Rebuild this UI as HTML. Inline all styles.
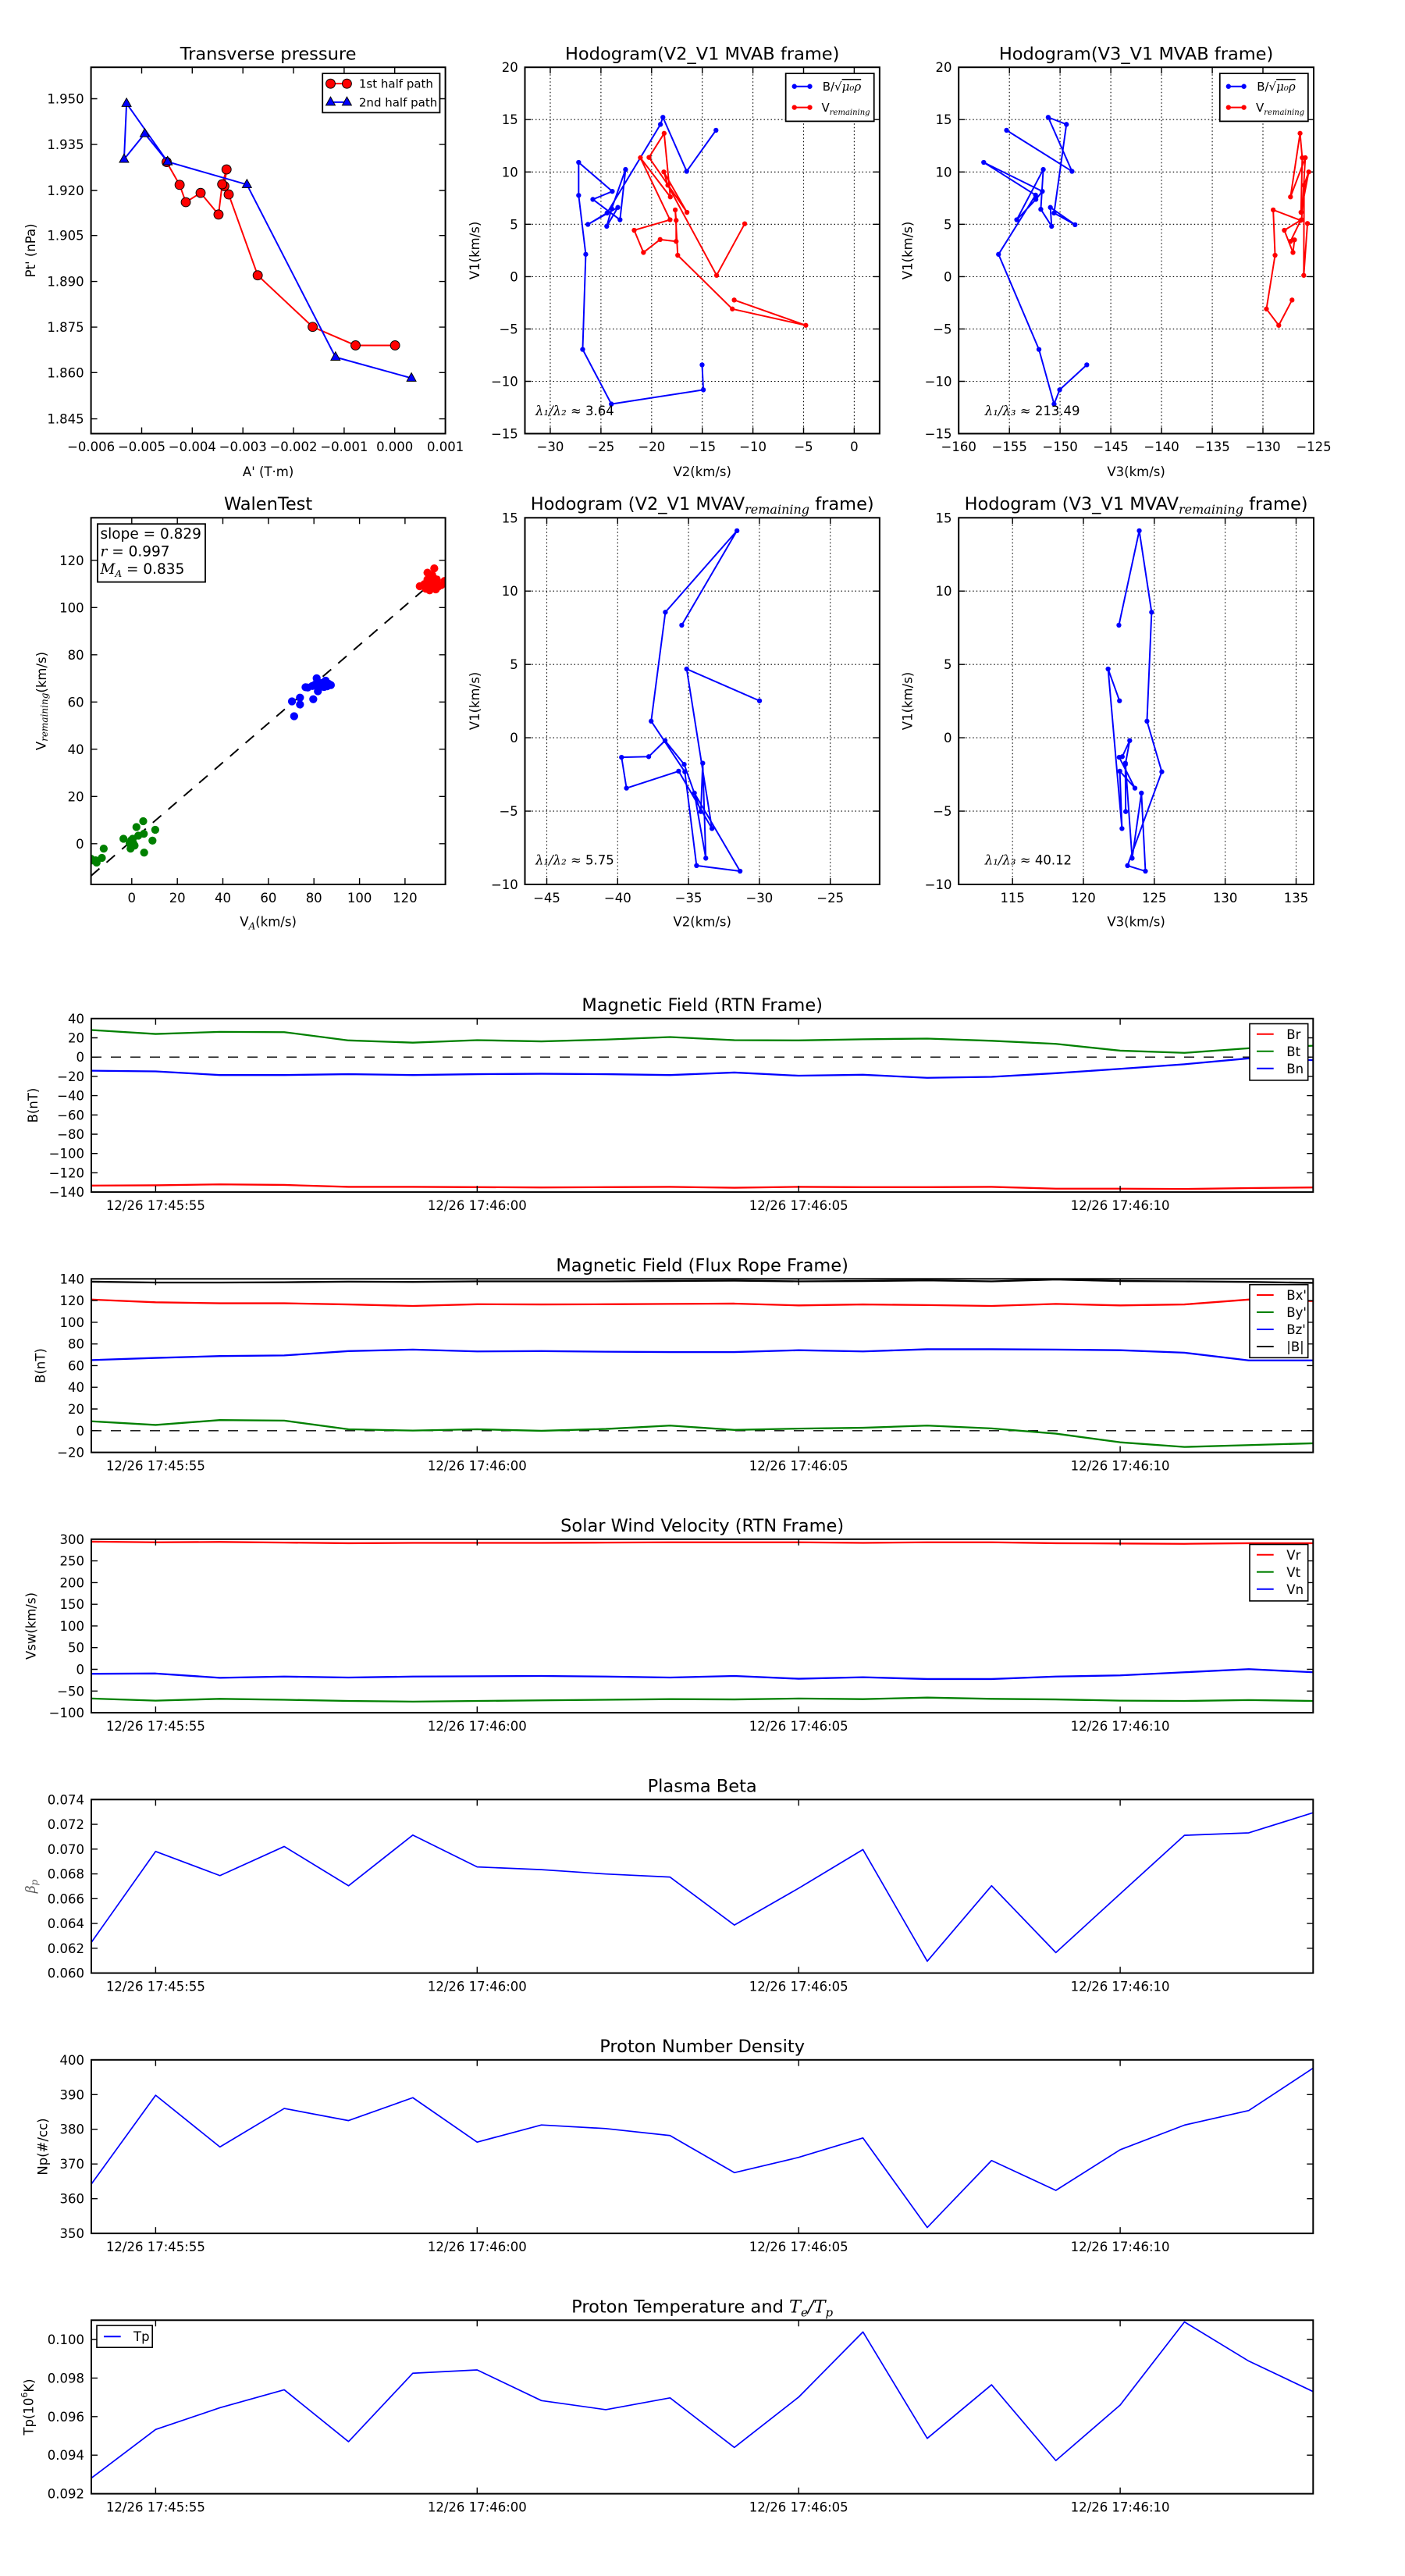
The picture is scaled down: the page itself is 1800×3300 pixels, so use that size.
<!DOCTYPE html>
<html><head><meta charset="utf-8"><title>Flux rope analysis</title>
<style>
html,body{margin:0;padding:0;background:#fff;}
svg{display:block;}
text{font-family:"DejaVu Sans","Liberation Sans",sans-serif;fill:#000;}
.t{font-size:16.5px;}
.ttl{font-size:22.5px;}
.lg{font-size:15px;}
.m{font-family:"DejaVu Serif","Liberation Serif",serif;font-style:italic;}
.ax{fill:none;stroke:#000;stroke-width:2;}
.tk{fill:none;stroke:#000;stroke-width:1.4;}
.grid{fill:none;stroke:#000;stroke-width:1.1;stroke-dasharray:1.5,3;}
.ts{fill:none;vector-effect:non-scaling-stroke;stroke-linejoin:round;}
</style></head><body>
<svg width="1800" height="3300" viewBox="0 0 1800 3300" xmlns="http://www.w3.org/2000/svg">
<defs>
<marker id="db" viewBox="-10 -10 20 20" markerWidth="20" markerHeight="20" markerUnits="userSpaceOnUse"><circle r="8" fill="#0000ff"/></marker>
<marker id="dr" viewBox="-10 -10 20 20" markerWidth="20" markerHeight="20" markerUnits="userSpaceOnUse"><circle r="8" fill="#ff0000"/></marker>
<marker id="mr" viewBox="-18 -18 36 36" markerWidth="36" markerHeight="36" markerUnits="userSpaceOnUse"><circle r="15" fill="#ff0000" stroke="#000" stroke-width="2.5"/></marker>
<marker id="mt" viewBox="-18 -20 36 36" markerWidth="36" markerHeight="36" markerUnits="userSpaceOnUse"><path d="M0,-17 L15,10 L-15,10Z" fill="#0000ff" stroke="#000" stroke-width="2.5"/></marker>
<marker id="wg" viewBox="-14 -14 28 28" markerWidth="28" markerHeight="28" markerUnits="userSpaceOnUse"><circle r="13" fill="#008000"/></marker>
<marker id="wb" viewBox="-14 -14 28 28" markerWidth="28" markerHeight="28" markerUnits="userSpaceOnUse"><circle r="13" fill="#0000ff"/></marker>
<marker id="wr" viewBox="-14 -14 28 28" markerWidth="28" markerHeight="28" markerUnits="userSpaceOnUse"><circle r="13" fill="#ff0000"/></marker>
<clipPath id="cw"><rect x="116.6" y="663.3" width="454" height="469.7"/></clipPath>
</defs>
<rect width="1800" height="3300" fill="#fff"/>

<!-- ============ Panel 1: Transverse pressure ============ -->
<text class="ttl" x="343.6" y="76.3" text-anchor="middle">Transverse pressure</text>
<g transform="scale(0.39541)">
<polyline points="1280,1119 1152,1119 1013,1059 835,892 741,630 727,603 734,549 720,597 708,695 650,625 602,655 582,599 540,525" fill="none" stroke="#ff0000" stroke-width="5" marker-start="url(#mr)" marker-mid="url(#mr)" marker-end="url(#mr)"/>
<polyline points="1333,1225 1087,1157 800,598 543,524 410,335 402,516 469,433 543,524" fill="none" stroke="#0000ff" stroke-width="5" marker-start="url(#mt)" marker-mid="url(#mt)" marker-end="url(#mt)"/>
<rect x="1045" y="238" width="380" height="127" fill="#fff" stroke="#000" stroke-width="4.5"/>
<polyline points="1071,271 1124,271" fill="none" stroke="#ff0000" stroke-width="5" marker-start="url(#mr)" marker-end="url(#mr)"/>
<polyline points="1071,331 1124,331" fill="none" stroke="#0000ff" stroke-width="5" marker-start="url(#mt)" marker-end="url(#mt)"/>
</g>
<text class="lg" x="459.9" y="112.5">1st half path</text>
<text class="lg" x="459.9" y="136.3">2nd half path</text>
<path class="tk" d="M181.5 555.5v-8M246.3 555.5v-8M311.2 555.5v-8M376 555.5v-8M440.9 555.5v-8M505.7 555.5v-8M181.5 86.2v8M246.3 86.2v8M311.2 86.2v8M376 86.2v8M440.9 86.2v8M505.7 86.2v8M116.6 536.6h8M116.6 477.3h8M116.6 419.1h8M116.6 360.6h8M116.6 301.7h8M116.6 244h8M116.6 185.1h8M116.6 126.5h8M570.6 536.6h-8M570.6 477.3h-8M570.6 419.1h-8M570.6 360.6h-8M570.6 301.7h-8M570.6 244h-8M570.6 185.1h-8M570.6 126.5h-8"/>
<rect class="ax" x="116.6" y="86.2" width="454" height="469.3"/>
<g class="t" text-anchor="end">
<text x="107.6" y="132.5">1.950</text><text x="107.6" y="191.1">1.935</text><text x="107.6" y="250">1.920</text><text x="107.6" y="307.7">1.905</text><text x="107.6" y="366.6">1.890</text><text x="107.6" y="425.1">1.875</text><text x="107.6" y="483.3">1.860</text><text x="107.6" y="542.6">1.845</text>
</g>
<g class="t" text-anchor="middle">
<text x="116.6" y="578">−0.006</text><text x="181.5" y="578">−0.005</text><text x="246.3" y="578">−0.004</text><text x="311.2" y="578">−0.003</text><text x="376" y="578">−0.002</text><text x="440.9" y="578">−0.001</text><text x="505.7" y="578">0.000</text><text x="570.6" y="578">0.001</text>
</g>
<text class="t" x="343.6" y="610" text-anchor="middle">A' (T·m)</text>
<text class="t" transform="translate(39.5,320.9) rotate(-90)" text-anchor="middle" dominant-baseline="central">Pt' (nPa)</text>

<!-- ============ Panel 2: Hodogram V2_V1 MVAB ============ -->
<text class="ttl" x="899.7" y="76.3" text-anchor="middle">Hodogram(V2_V1 MVAB frame)</text>
<path class="grid" d="M704.96 86.2V555.5M769.9 86.2V555.5M834.8 86.2V555.5M899.7 86.2V555.5M964.6 86.2V555.5M1029.5 86.2V555.5M1094.4 86.2V555.5M672.5 153.2H1126.9M672.5 220.3H1126.9M672.5 287.3H1126.9M672.5 354.4H1126.9M672.5 421.4H1126.9M672.5 488.5H1126.9"/>
<path class="tk" d="M704.96 555.5v-8M769.9 555.5v-8M834.8 555.5v-8M899.7 555.5v-8M964.6 555.5v-8M1029.5 555.5v-8M1094.4 555.5v-8M704.96 86.2v8M769.9 86.2v8M834.8 86.2v8M899.7 86.2v8M964.6 86.2v8M1029.5 86.2v8M1094.4 86.2v8M672.5 153.2h8M672.5 220.3h8M672.5 287.3h8M672.5 354.4h8M672.5 421.4h8M672.5 488.5h8M1126.9 153.2h-8M1126.9 220.3h-8M1126.9 287.3h-8M1126.9 354.4h-8M1126.9 421.4h-8M1126.9 488.5h-8"/>
<g transform="translate(580,0) scale(0.39541)">
<polyline points="853,422 758,555 681,380 673,403 500,690 438,727 535,672 499,733 515,676 560,549 542,712 454,646 517,620 408,526 408,633 431,824 421,1132 514,1309 812,1263 808,1182" fill="none" stroke="#0000ff" stroke-width="5" stroke-linejoin="round" marker-start="url(#db)" marker-mid="url(#db)" marker-end="url(#db)"/>
<polyline points="946,725 855,892 697,600 684,557 759,688 636,510 685,432 705,638 608,511 704,712 588,746 618,818 672,776 724,782 724,714 721,680 729,827 906,1001 1144,1054 912,972" fill="none" stroke="#ff0000" stroke-width="5" stroke-linejoin="round" marker-start="url(#dr)" marker-mid="url(#dr)" marker-end="url(#dr)"/>
<rect x="1079" y="238" width="286" height="155" fill="#fff" stroke="#000" stroke-width="4.5"/>
<polyline points="1107,280 1157,280" fill="none" stroke="#0000ff" stroke-width="5" marker-start="url(#db)" marker-end="url(#db)"/>
<polyline points="1107,348 1157,348" fill="none" stroke="#ff0000" stroke-width="5" marker-start="url(#dr)" marker-end="url(#dr)"/>
</g>
<text class="lg" x="1053.7" y="116">B/<tspan class="m">√</tspan><tspan class="m" text-decoration="overline">μ₀ρ</tspan></text>
<text class="lg" x="1052.5" y="143">V<tspan class="m" font-size="10" dy="4">remaining</tspan></text>
<rect class="ax" x="672.5" y="86.2" width="454.4" height="469.3"/>
<g class="t" text-anchor="end">
<text x="663.8" y="92.2">20</text><text x="663.8" y="159.2">15</text><text x="663.8" y="226.3">10</text><text x="663.8" y="293.3">5</text><text x="663.8" y="360.4">0</text><text x="663.8" y="427.4">−5</text><text x="663.8" y="494.5">−10</text><text x="663.8" y="561.5">−15</text>
</g>
<g class="t" text-anchor="middle">
<text x="704.96" y="578">−30</text><text x="769.9" y="578">−25</text><text x="834.8" y="578">−20</text><text x="899.7" y="578">−15</text><text x="964.6" y="578">−10</text><text x="1029.5" y="578">−5</text><text x="1094.4" y="578">0</text>
</g>
<text class="t" x="686" y="532"><tspan class="m">λ₁/λ₂ ≈</tspan> 3.64</text>
<text class="t" x="899.7" y="610" text-anchor="middle">V2(km/s)</text>
<text class="t" transform="translate(608.5,320.9) rotate(-90)" text-anchor="middle" dominant-baseline="central">V1(km/s)</text>

<!-- ============ Panel 3: Hodogram V3_V1 MVAB ============ -->
<text class="ttl" x="1455.6" y="76.3" text-anchor="middle">Hodogram(V3_V1 MVAB frame)</text>
<path class="grid" d="M1293.2 86.2V555.5M1358.1 86.2V555.5M1423.1 86.2V555.5M1488.1 86.2V555.5M1553.1 86.2V555.5M1618 86.2V555.5M1228.2 153.2H1683M1228.2 220.3H1683M1228.2 287.3H1683M1228.2 354.4H1683M1228.2 421.4H1683M1228.2 488.5H1683"/>
<path class="tk" d="M1293.2 555.5v-8M1358.1 555.5v-8M1423.1 555.5v-8M1488.1 555.5v-8M1553.1 555.5v-8M1618 555.5v-8M1293.2 86.2v8M1358.1 86.2v8M1423.1 86.2v8M1488.1 86.2v8M1553.1 86.2v8M1618 86.2v8M1228.2 153.2h8M1228.2 220.3h8M1228.2 287.3h8M1228.2 354.4h8M1228.2 421.4h8M1228.2 488.5h8M1683 153.2h-8M1683 220.3h-8M1683 287.3h-8M1683 354.4h-8M1683 421.4h-8M1683 488.5h-8"/>
<g transform="translate(1180,0) scale(0.39541)">
<polyline points="277,422 489,555 412,380 471,403 431,690 499,728 419,672 423,733 388,678 396,549 310,712 372,646 393,620 203,526 371,632 251,824 382,1132 431,1309 449,1263 537,1182" fill="none" stroke="#0000ff" stroke-width="5" stroke-linejoin="round" marker-start="url(#db)" marker-mid="url(#db)" marker-end="url(#db)"/>
<polyline points="1252,724 1240,892 1241,600 1256,557 1231,688 1235,511 1228,432 1197,638 1245,511 1233,712 1177,746 1205,818 1210,777 1197,782 1230,714 1141,680 1147,827 1119,1001 1159,1054 1202,972" fill="none" stroke="#ff0000" stroke-width="5" stroke-linejoin="round" marker-start="url(#dr)" marker-mid="url(#dr)" marker-end="url(#dr)"/>
<rect x="968" y="238" width="286" height="155" fill="#fff" stroke="#000" stroke-width="4.5"/>
<polyline points="996,280 1046,280" fill="none" stroke="#0000ff" stroke-width="5" marker-start="url(#db)" marker-end="url(#db)"/>
<polyline points="996,348 1046,348" fill="none" stroke="#ff0000" stroke-width="5" marker-start="url(#dr)" marker-end="url(#dr)"/>
</g>
<text class="lg" x="1610.2" y="116">B/<tspan class="m">√</tspan><tspan class="m" text-decoration="overline">μ₀ρ</tspan></text>
<text class="lg" x="1609" y="143">V<tspan class="m" font-size="10" dy="4">remaining</tspan></text>
<rect class="ax" x="1228.2" y="86.2" width="454.8" height="469.3"/>
<g class="t" text-anchor="end">
<text x="1219.5" y="92.2">20</text><text x="1219.5" y="159.2">15</text><text x="1219.5" y="226.3">10</text><text x="1219.5" y="293.3">5</text><text x="1219.5" y="360.4">0</text><text x="1219.5" y="427.4">−5</text><text x="1219.5" y="494.5">−10</text><text x="1219.5" y="561.5">−15</text>
</g>
<g class="t" text-anchor="middle">
<text x="1228.2" y="578">−160</text><text x="1293.2" y="578">−155</text><text x="1358.1" y="578">−150</text><text x="1423.1" y="578">−145</text><text x="1488.1" y="578">−140</text><text x="1553.1" y="578">−135</text><text x="1618" y="578">−130</text><text x="1683" y="578">−125</text>
</g>
<text class="t" x="1261.8" y="532"><tspan class="m">λ₁/λ₃ ≈</tspan> 213.49</text>
<text class="t" x="1455.6" y="610" text-anchor="middle">V3(km/s)</text>
<text class="t" transform="translate(1163.2,320.9) rotate(-90)" text-anchor="middle" dominant-baseline="central">V1(km/s)</text>

<!-- ============ Panel 4: WalenTest ============ -->
<text class="ttl" x="343.6" y="653" text-anchor="middle">WalenTest</text>
<path class="tk" d="M168.8 1133v-8M227.2 1133v-8M285.5 1133v-8M343.9 1133v-8M402.2 1133v-8M460.6 1133v-8M518.9 1133v-8M168.8 663.3v8M227.2 663.3v8M285.5 663.3v8M343.9 663.3v8M402.2 663.3v8M460.6 663.3v8M518.9 663.3v8M116.6 1080.8h8M116.6 1020.3h8M116.6 959.8h8M116.6 899.3h8M116.6 838.8h8M116.6 778.3h8M116.6 717.8h8M570.6 1080.8h-8M570.6 1020.3h-8M570.6 959.8h-8M570.6 899.3h-8M570.6 838.8h-8M570.6 778.3h-8M570.6 717.8h-8"/>
<g clip-path="url(#cw)">
<g transform="translate(0,600) scale(0.39541)">
<polyline points="295,1320 1443,333" fill="none" stroke="#000" stroke-width="5" stroke-dasharray="36,30"/>
<polyline points="300,1270 313,1277 330,1262 336,1232 400,1200 423,1232 430,1200 436,1222 442,1162 448,1190 464,1143 466,1184 467,1245 494,1206 503,1171 420,1215 425,1205 432,1215 295,1265 310,1270" fill="none" stroke="none" marker-start="url(#wg)" marker-mid="url(#wg)" marker-end="url(#wg)"/>
<polyline points="946,755 953,803 972,743 972,765 997,710 990,709 1015,748 1026,680 1030,722 1040,700 1050,708 1055,688 1060,706 1072,702 1065,698 1022,700 1035,710 1045,695 1028,690 1012,705" fill="none" stroke="none" marker-start="url(#wb)" marker-mid="url(#wb)" marker-end="url(#wb)"/>
<polyline points="1360,382 1385,338 1392,395 1407,324 1402,370 1385,360 1420,383 1440,365 1410,378 1395,355 1375,375 1398,385 1415,360 1388,372 1430,378 1400,345 1380,390 1412,392 1392,368 1405,355" fill="none" stroke="none" marker-start="url(#wr)" marker-mid="url(#wr)" marker-end="url(#wr)"/>
</g>
</g>
<rect x="125" y="671.2" width="138" height="74.4" fill="#fff" stroke="#000" stroke-width="1.8"/>
<text x="128.5" y="690" font-size="18.5">slope = 0.829</text>
<text x="128.5" y="712.6" font-size="18.5"><tspan class="m">r</tspan> = 0.997</text>
<text x="128.5" y="735.2" font-size="18.5"><tspan class="m">M</tspan><tspan class="m" font-size="12" dy="4">A</tspan><tspan dy="-4"> = 0.835</tspan></text>
<rect class="ax" x="116.6" y="663.3" width="454" height="469.7"/>
<g class="t" text-anchor="end">
<text x="107.6" y="1086.8">0</text><text x="107.6" y="1026.3">20</text><text x="107.6" y="965.8">40</text><text x="107.6" y="905.3">60</text><text x="107.6" y="844.8">80</text><text x="107.6" y="784.3">100</text><text x="107.6" y="723.8">120</text>
</g>
<g class="t" text-anchor="middle">
<text x="168.8" y="1156">0</text><text x="227.2" y="1156">20</text><text x="285.5" y="1156">40</text><text x="343.9" y="1156">60</text><text x="402.2" y="1156">80</text><text x="460.6" y="1156">100</text><text x="518.9" y="1156">120</text>
</g>
<text class="t" x="343.6" y="1186.4" text-anchor="middle">V<tspan class="m" font-size="12" dy="4">A</tspan><tspan dy="-4">(km/s)</tspan></text>
<text class="t" transform="translate(53,898) rotate(-90)" text-anchor="middle" dominant-baseline="central">V<tspan class="m" font-size="12" dy="4">remaining</tspan><tspan dy="-4">(km/s)</tspan></text>

<!-- ============ Panel 5: Hodogram V2_V1 MVAV ============ -->
<text class="ttl" x="899.7" y="653" text-anchor="middle">Hodogram (V2_V1 MVAV<tspan class="m" font-size="16" dy="5">remaining</tspan><tspan dy="-5"> frame)</tspan></text>
<path class="grid" d="M700.5 663.3V1133M791.3 663.3V1133M882.1 663.3V1133M972.9 663.3V1133M1063.7 663.3V1133M672.5 757.2H1126.9M672.5 851.2H1126.9M672.5 945.1H1126.9M672.5 1039.1H1126.9"/>
<path class="tk" d="M700.5 1133v-8M791.3 1133v-8M882.1 1133v-8M972.9 1133v-8M1063.7 1133v-8M700.5 663.3v8M791.3 663.3v8M882.1 663.3v8M972.9 663.3v8M1063.7 663.3v8M672.5 757.2h8M672.5 851.2h8M672.5 945.1h8M672.5 1039.1h8M1126.9 757.2h-8M1126.9 851.2h-8M1126.9 945.1h-8M1126.9 1039.1h-8"/>
<g transform="translate(580,600) scale(0.39541)">
<polyline points="742,508 921,202 689,466 643,819 752,983 790,1287 931,1305 783,1052 820,1263 810,955 804,1112 750,959 688,882 635,934 547,936 563,1036 732,981 840,1167 758,650 994,753" fill="none" stroke="#0000ff" stroke-width="5" stroke-linejoin="round" marker-start="url(#db)" marker-mid="url(#db)" marker-end="url(#db)"/>
</g>
<rect class="ax" x="672.5" y="663.3" width="454.4" height="469.7"/>
<g class="t" text-anchor="end">
<text x="663.8" y="669.3">15</text><text x="663.8" y="763.2">10</text><text x="663.8" y="857.2">5</text><text x="663.8" y="951.1">0</text><text x="663.8" y="1045.1">−5</text><text x="663.8" y="1139">−10</text>
</g>
<g class="t" text-anchor="middle">
<text x="700.5" y="1156">−45</text><text x="791.3" y="1156">−40</text><text x="882.1" y="1156">−35</text><text x="972.9" y="1156">−30</text><text x="1063.7" y="1156">−25</text>
</g>
<text class="t" x="686" y="1107.3"><tspan class="m">λ₁/λ₂ ≈</tspan> 5.75</text>
<text class="t" x="899.7" y="1186.4" text-anchor="middle">V2(km/s)</text>
<text class="t" transform="translate(608.5,898) rotate(-90)" text-anchor="middle" dominant-baseline="central">V1(km/s)</text>

<!-- ============ Panel 6: Hodogram V3_V1 MVAV ============ -->
<text class="ttl" x="1455.6" y="653" text-anchor="middle">Hodogram (V3_V1 MVAV<tspan class="m" font-size="16" dy="5">remaining</tspan><tspan dy="-5"> frame)</tspan></text>
<path class="grid" d="M1297.2 663.3V1133M1388 663.3V1133M1478.8 663.3V1133M1569.6 663.3V1133M1660.5 663.3V1133M1228.2 757.2H1683M1228.2 851.2H1683M1228.2 945.1H1683M1228.2 1039.1H1683"/>
<path class="tk" d="M1297.2 1133v-8M1388 1133v-8M1478.8 1133v-8M1569.6 1133v-8M1660.5 1133v-8M1297.2 663.3v8M1388 663.3v8M1478.8 663.3v8M1569.6 663.3v8M1660.5 663.3v8M1228.2 757.2h8M1228.2 851.2h8M1228.2 945.1h8M1228.2 1039.1h8M1683 757.2h-8M1683 851.2h-8M1683 945.1h-8M1683 1039.1h-8"/>
<g transform="translate(1180,600) scale(0.39541)">
<polyline points="641,508 707,202 747,466 732,819 780,983 669,1287 727,1305 714,1052 684,1263 662,955 663,1112 662,959 676,882 652,934 642,936 693,1036 644,981 651,1167 606,650 643,753" fill="none" stroke="#0000ff" stroke-width="5" stroke-linejoin="round" marker-start="url(#db)" marker-mid="url(#db)" marker-end="url(#db)"/>
</g>
<rect class="ax" x="1228.2" y="663.3" width="454.8" height="469.7"/>
<g class="t" text-anchor="end">
<text x="1219.5" y="669.3">15</text><text x="1219.5" y="763.2">10</text><text x="1219.5" y="857.2">5</text><text x="1219.5" y="951.1">0</text><text x="1219.5" y="1045.1">−5</text><text x="1219.5" y="1139">−10</text>
</g>
<g class="t" text-anchor="middle">
<text x="1297.2" y="1156">115</text><text x="1388" y="1156">120</text><text x="1478.8" y="1156">125</text><text x="1569.6" y="1156">130</text><text x="1660.5" y="1156">135</text>
</g>
<text class="t" x="1261.8" y="1107.3"><tspan class="m">λ₁/λ₃ ≈</tspan> 40.12</text>
<text class="t" x="1455.6" y="1186.4" text-anchor="middle">V3(km/s)</text>
<text class="t" transform="translate(1163.2,898) rotate(-90)" text-anchor="middle" dominant-baseline="central">V1(km/s)</text>

<!-- ============ TS1: Magnetic Field RTN ============ -->
<text class="ttl" x="899.65" y="1294.8" text-anchor="middle">Magnetic Field (RTN Frame)</text>
<path d="M117 1354.2H1682.3" stroke="#000" stroke-width="1.4" stroke-dasharray="13,12" fill="none"/>
<g transform="matrix(82.38 0 0 -1.235 117 1354.2)">
<polyline class="ts" stroke="#ff0000" stroke-width="2.3" points="0,-133.3 1,-133 2,-132 3,-132.6 4,-134.6 5,-134.6 6,-134.9 7,-135.2 8,-134.9 9,-134.6 10,-135.5 11,-134.6 12,-134.9 13,-134.9 14,-134.6 15,-136.5 16,-136.5 17,-136.8 18,-135.9 19,-135.2"/>
<polyline class="ts" stroke="#008000" stroke-width="2.3" points="0,28.1 1,24 2,26.2 3,25.9 4,17.3 5,15 6,17.6 7,16.3 8,18.2 9,20.8 10,17.6 11,17.3 12,18.5 13,19.2 14,16.9 15,13.7 16,6.7 17,4.4 18,9.2 19,11.8"/>
<polyline class="ts" stroke="#0000ff" stroke-width="2.3" points="0,-14.1 1,-14.8 2,-18.6 3,-18.6 4,-17.7 5,-18.6 6,-17.7 7,-17.3 8,-17.7 9,-18.6 10,-16 11,-19.3 12,-18.3 13,-21.5 14,-20.5 15,-16.7 16,-12.2 17,-7.4 18,-1.3 19,-3.2"/>
</g>
<path class="tk" d="M199.4 1527.1v-8M611.3 1527.1v-8M1023.2 1527.1v-8M1435.1 1527.1v-8M199.4 1304.8v8M611.3 1304.8v8M1023.2 1304.8v8M1435.1 1304.8v8M117 1329.5h8M117 1354.2h8M117 1378.9h8M117 1403.6h8M117 1428.3h8M117 1453h8M117 1477.7h8M117 1502.4h8M1682.3 1329.5h-8M1682.3 1354.2h-8M1682.3 1378.9h-8M1682.3 1403.6h-8M1682.3 1428.3h-8M1682.3 1453h-8M1682.3 1477.7h-8M1682.3 1502.4h-8"/>
<rect x="1601" y="1311.5" width="74.7" height="72.4" fill="#fff" stroke="#000" stroke-width="1.6"/>
<path d="M1610 1324.8h21.7" stroke="#ff0000" stroke-width="2"/><text class="t" x="1648.3" y="1330.8">Br</text>
<path d="M1610 1346.8h21.7" stroke="#008000" stroke-width="2"/><text class="t" x="1648.3" y="1352.8">Bt</text>
<path d="M1610 1368.8h21.7" stroke="#0000ff" stroke-width="2"/><text class="t" x="1648.3" y="1374.8">Bn</text>
<rect class="ax" x="117" y="1304.8" width="1565.3" height="222.3"/>
<g class="t" text-anchor="end">
<text x="108" y="1310.8">40</text><text x="108" y="1335.5">20</text><text x="108" y="1360.2">0</text><text x="108" y="1384.9">−20</text><text x="108" y="1409.6">−40</text><text x="108" y="1434.3">−60</text><text x="108" y="1459">−80</text><text x="108" y="1483.7">−100</text><text x="108" y="1508.4">−120</text><text x="108" y="1533.1">−140</text>
</g>
<g class="t" text-anchor="middle">
<text x="199.4" y="1550.1">12/26 17:45:55</text><text x="611.3" y="1550.1">12/26 17:46:00</text><text x="1023.2" y="1550.1">12/26 17:46:05</text><text x="1435.1" y="1550.1">12/26 17:46:10</text>
</g>
<text class="t" transform="translate(42.7,1416) rotate(-90)" text-anchor="middle" dominant-baseline="central">B(nT)</text>

<!-- ============ TS2: Magnetic Field Flux Rope ============ -->
<text class="ttl" x="899.65" y="1628.3" text-anchor="middle">Magnetic Field (Flux Rope Frame)</text>
<path d="M117 1832.8H1682.3" stroke="#000" stroke-width="1.4" stroke-dasharray="13,12" fill="none"/>
<g transform="matrix(82.38 0 0 -1.3894 117 1832.8)">
<polyline class="ts" stroke="#ff0000" stroke-width="2.3" points="0,120.9 1,118.4 2,117.5 3,117.5 4,116.4 5,115 6,116.6 7,116.4 8,116.6 9,116.9 10,117.2 11,115.5 12,116.4 13,115.8 14,115 15,116.9 16,115.5 17,116.4 18,120.9 19,119.5"/>
<polyline class="ts" stroke="#008000" stroke-width="2.3" points="0,8.7 1,5.3 2,9.8 3,9.3 4,1.3 5,0.1 6,1.3 7,-0.1 8,1.6 9,4.7 10,0.7 11,1.9 12,2.7 13,4.7 14,2.1 15,-2.7 16,-10.7 17,-15 18,-13.3 19,-11.6"/>
<polyline class="ts" stroke="#0000ff" stroke-width="2.3" points="0,65.1 1,67.1 2,68.8 3,69.4 4,73.4 5,74.8 6,73.1 7,73.4 8,72.8 9,72.5 10,72.5 11,74.2 12,73.1 13,75.1 14,75.1 15,74.8 16,74.2 17,71.9 18,64.8 19,64.8"/>
<polyline class="ts" stroke="#000000" stroke-width="2.3" points="0,137.4 1,136.6 2,136.6 3,136.9 4,137.4 5,137.2 6,137.7 7,137.7 8,137.7 9,138 10,138.3 11,137.7 12,138 13,138.6 14,137.7 15,139.4 16,138 17,137.7 18,137.2 19,136.3"/>
</g>
<path class="tk" d="M199.4 1860.6v-8M611.3 1860.6v-8M1023.2 1860.6v-8M1435.1 1860.6v-8M199.4 1638.3v8M611.3 1638.3v8M1023.2 1638.3v8M1435.1 1638.3v8M117 1666.1h8M117 1693.9h8M117 1721.7h8M117 1749.4h8M117 1777.2h8M117 1805h8M117 1832.8h8M1682.3 1666.1h-8M1682.3 1693.9h-8M1682.3 1721.7h-8M1682.3 1749.4h-8M1682.3 1777.2h-8M1682.3 1805h-8M1682.3 1832.8h-8"/>
<rect x="1601" y="1645.7" width="74.7" height="93.6" fill="#fff" stroke="#000" stroke-width="1.6"/>
<path d="M1610 1659h21.7" stroke="#ff0000" stroke-width="2"/><text class="t" x="1648.3" y="1665">Bx'</text>
<path d="M1610 1681h21.7" stroke="#008000" stroke-width="2"/><text class="t" x="1648.3" y="1687">By'</text>
<path d="M1610 1703h21.7" stroke="#0000ff" stroke-width="2"/><text class="t" x="1648.3" y="1709">Bz'</text>
<path d="M1610 1725h21.7" stroke="#000000" stroke-width="2"/><text class="t" x="1648.3" y="1731">|B|</text>
<rect class="ax" x="117" y="1638.3" width="1565.3" height="222.3"/>
<g class="t" text-anchor="end">
<text x="108" y="1644.3">140</text><text x="108" y="1672.1">120</text><text x="108" y="1699.9">100</text><text x="108" y="1727.7">80</text><text x="108" y="1755.4">60</text><text x="108" y="1783.2">40</text><text x="108" y="1811">20</text><text x="108" y="1838.8">0</text><text x="108" y="1866.6">−20</text>
</g>
<g class="t" text-anchor="middle">
<text x="199.4" y="1883.6">12/26 17:45:55</text><text x="611.3" y="1883.6">12/26 17:46:00</text><text x="1023.2" y="1883.6">12/26 17:46:05</text><text x="1435.1" y="1883.6">12/26 17:46:10</text>
</g>
<text class="t" transform="translate(52,1749.5) rotate(-90)" text-anchor="middle" dominant-baseline="central">B(nT)</text>

<!-- ============ TS3: Solar Wind Velocity ============ -->
<text class="ttl" x="899.65" y="1961.8" text-anchor="middle">Solar Wind Velocity (RTN Frame)</text>
<g transform="matrix(82.38 0 0 -0.55575 117 2138.5)">
<polyline class="ts" stroke="#ff0000" stroke-width="2.3" points="0,294.3 1,292.9 2,293.6 3,292.2 4,290.7 5,291.5 6,291.5 7,291.5 8,292.2 9,292.9 10,292.9 11,292.9 12,291.5 13,292.9 14,292.9 15,290.7 16,290 17,289.3 18,290.7 19,290.7"/>
<polyline class="ts" stroke="#008000" stroke-width="2.3" points="0,-67.3 1,-72.2 2,-68 3,-70.2 4,-72.9 5,-74.4 6,-72.9 7,-71.5 8,-70.2 9,-68.7 10,-69.4 11,-67.3 12,-68.7 13,-65.1 14,-68 15,-69.4 16,-72.2 17,-72.9 18,-70.8 19,-72.9"/>
<polyline class="ts" stroke="#0000ff" stroke-width="2.3" points="0,-10.3 1,-9.6 2,-19.6 3,-16.7 4,-18.9 5,-16.7 6,-16 7,-15.3 8,-16.7 9,-18.9 10,-15.3 11,-21.7 12,-18.2 13,-22.4 14,-22.4 15,-16.7 16,-13.9 17,-6.8 18,0.4 19,-6.8"/>
</g>
<path class="tk" d="M199.4 2194.1v-8M611.3 2194.1v-8M1023.2 2194.1v-8M1435.1 2194.1v-8M199.4 1971.8v8M611.3 1971.8v8M1023.2 1971.8v8M1435.1 1971.8v8M117 1999.6h8M117 2027.4h8M117 2055.2h8M117 2082.9h8M117 2110.7h8M117 2138.5h8M117 2166.3h8M1682.3 1999.6h-8M1682.3 2027.4h-8M1682.3 2055.2h-8M1682.3 2082.9h-8M1682.3 2110.7h-8M1682.3 2138.5h-8M1682.3 2166.3h-8"/>
<rect x="1601" y="1978.5" width="74.7" height="72.4" fill="#fff" stroke="#000" stroke-width="1.6"/>
<path d="M1610 1991.8h21.7" stroke="#ff0000" stroke-width="2"/><text class="t" x="1648.3" y="1997.8">Vr</text>
<path d="M1610 2013.8h21.7" stroke="#008000" stroke-width="2"/><text class="t" x="1648.3" y="2019.8">Vt</text>
<path d="M1610 2035.8h21.7" stroke="#0000ff" stroke-width="2"/><text class="t" x="1648.3" y="2041.8">Vn</text>
<rect class="ax" x="117" y="1971.8" width="1565.3" height="222.3"/>
<g class="t" text-anchor="end">
<text x="108" y="1977.8">300</text><text x="108" y="2005.6">250</text><text x="108" y="2033.4">200</text><text x="108" y="2061.2">150</text><text x="108" y="2088.9">100</text><text x="108" y="2116.7">50</text><text x="108" y="2144.5">0</text><text x="108" y="2172.3">−50</text><text x="108" y="2200.1">−100</text>
</g>
<g class="t" text-anchor="middle">
<text x="199.4" y="2217.1">12/26 17:45:55</text><text x="611.3" y="2217.1">12/26 17:46:00</text><text x="1023.2" y="2217.1">12/26 17:46:05</text><text x="1435.1" y="2217.1">12/26 17:46:10</text>
</g>
<text class="t" transform="translate(40,2083) rotate(-90)" text-anchor="middle" dominant-baseline="central">Vsw(km/s)</text>

<!-- ============ TS4: Plasma Beta ============ -->
<text class="ttl" x="899.65" y="2295.3" text-anchor="middle">Plasma Beta</text>
<g transform="matrix(82.38 0 0 -15.879 117 3480.3)">
<polyline class="ts" stroke="#0000ff" stroke-width="1.7" points="0,62.47 1,69.81 2,67.86 3,70.21 4,67.04 5,71.13 6,68.56 7,68.34 8,67.99 9,67.74 10,63.87 11,66.84 12,69.96 13,60.95 14,67.04 15,61.65 16,66.39 17,71.11 18,71.31 19,72.93"/>
</g>
<path class="tk" d="M199.4 2527.6v-8M611.3 2527.6v-8M1023.2 2527.6v-8M1435.1 2527.6v-8M199.4 2305.3v8M611.3 2305.3v8M1023.2 2305.3v8M1435.1 2305.3v8M117 2337.1h8M117 2368.8h8M117 2400.6h8M117 2432.3h8M117 2464.1h8M117 2495.8h8M1682.3 2337.1h-8M1682.3 2368.8h-8M1682.3 2400.6h-8M1682.3 2432.3h-8M1682.3 2464.1h-8M1682.3 2495.8h-8"/>
<rect class="ax" x="117" y="2305.3" width="1565.3" height="222.3"/>
<g class="t" text-anchor="end">
<text x="108" y="2311.3">0.074</text><text x="108" y="2343.1">0.072</text><text x="108" y="2374.8">0.070</text><text x="108" y="2406.6">0.068</text><text x="108" y="2438.3">0.066</text><text x="108" y="2470.1">0.064</text><text x="108" y="2501.8">0.062</text><text x="108" y="2533.6">0.060</text>
</g>
<g class="t" text-anchor="middle">
<text x="199.4" y="2550.6">12/26 17:45:55</text><text x="611.3" y="2550.6">12/26 17:46:00</text><text x="1023.2" y="2550.6">12/26 17:46:05</text><text x="1435.1" y="2550.6">12/26 17:46:10</text>
</g>
<text class="m" transform="translate(40,2416.5) rotate(-90)" text-anchor="middle" dominant-baseline="central" font-size="17" style="fill:#555">β<tspan font-size="12" dy="4">p</tspan></text>

<!-- ============ TS5: Proton Number Density ============ -->
<text class="ttl" x="899.65" y="2628.8" text-anchor="middle">Proton Number Density</text>
<g transform="matrix(82.38 0 0 -4.446 117 4417.2)">
<polyline class="ts" stroke="#0000ff" stroke-width="1.7" points="0,364.2 1,389.8 2,374.9 3,386 4,382.5 5,389.1 6,376.3 7,381.25 8,380.2 9,378.2 10,367.5 11,371.9 12,377.5 13,351.7 14,371 15,362.4 16,374.1 17,381.2 18,385.4 19,397.6"/>
</g>
<path class="tk" d="M199.4 2861.1v-8M611.3 2861.1v-8M1023.2 2861.1v-8M1435.1 2861.1v-8M199.4 2638.8v8M611.3 2638.8v8M1023.2 2638.8v8M1435.1 2638.8v8M117 2683.3h8M117 2727.7h8M117 2772.2h8M117 2816.7h8M1682.3 2683.3h-8M1682.3 2727.7h-8M1682.3 2772.2h-8M1682.3 2816.7h-8"/>
<rect class="ax" x="117" y="2638.8" width="1565.3" height="222.3"/>
<g class="t" text-anchor="end">
<text x="108" y="2644.8">400</text><text x="108" y="2689.3">390</text><text x="108" y="2733.7">380</text><text x="108" y="2778.2">370</text><text x="108" y="2822.7">360</text><text x="108" y="2867.1">350</text>
</g>
<g class="t" text-anchor="middle">
<text x="199.4" y="2884.1">12/26 17:45:55</text><text x="611.3" y="2884.1">12/26 17:46:00</text><text x="1023.2" y="2884.1">12/26 17:46:05</text><text x="1435.1" y="2884.1">12/26 17:46:10</text>
</g>
<text class="t" transform="translate(55,2750) rotate(-90)" text-anchor="middle" dominant-baseline="central">Np(#/cc)</text>

<!-- ============ TS6: Proton Temperature ============ -->
<text class="ttl" x="899.65" y="2962.3" text-anchor="middle">Proton Temperature and <tspan class="m">T</tspan><tspan class="m" font-size="15" dy="5">e</tspan><tspan class="m" dy="-5">/T</tspan><tspan class="m" font-size="15" dy="5">p</tspan></text>
<g transform="matrix(82.38 0 0 -24.7 117 5467)">
<polyline class="ts" stroke="#0000ff" stroke-width="1.7" points="0,92.81 1,95.33 2,96.46 3,97.39 4,94.7 5,98.25 6,98.42 7,96.83 8,96.36 9,96.97 10,94.4 11,97.01 12,100.39 13,94.87 14,97.65 15,93.72 16,96.6 17,100.91 18,98.88 19,97.3"/>
</g>
<path class="tk" d="M199.4 3194.6v-8M611.3 3194.6v-8M1023.2 3194.6v-8M1435.1 3194.6v-8M199.4 2972.3v8M611.3 2972.3v8M1023.2 2972.3v8M1435.1 2972.3v8M117 2997h8M117 3046.4h8M117 3095.8h8M117 3145.2h8M1682.3 2997h-8M1682.3 3046.4h-8M1682.3 3095.8h-8M1682.3 3145.2h-8"/>
<rect x="124" y="2979.1" width="71.2" height="28.1" fill="#fff" stroke="#000" stroke-width="1.6"/>
<path d="M133 2993.2h21.7" stroke="#0000ff" stroke-width="2"/><text class="t" x="171" y="2999.2">Tp</text>
<rect class="ax" x="117" y="2972.3" width="1565.3" height="222.3"/>
<g class="t" text-anchor="end">
<text x="108" y="3003">0.100</text><text x="108" y="3052.4">0.098</text><text x="108" y="3101.8">0.096</text><text x="108" y="3151.2">0.094</text><text x="108" y="3200.6">0.092</text>
</g>
<g class="t" text-anchor="middle">
<text x="199.4" y="3217.6">12/26 17:45:55</text><text x="611.3" y="3217.6">12/26 17:46:00</text><text x="1023.2" y="3217.6">12/26 17:46:05</text><text x="1435.1" y="3217.6">12/26 17:46:10</text>
</g>
<text class="t" transform="translate(37,3083.5) rotate(-90)" text-anchor="middle" dominant-baseline="central">Tp(10<tspan font-size="11" dy="-6">6</tspan><tspan dy="6">K)</tspan></text>
</svg>
</body></html>
